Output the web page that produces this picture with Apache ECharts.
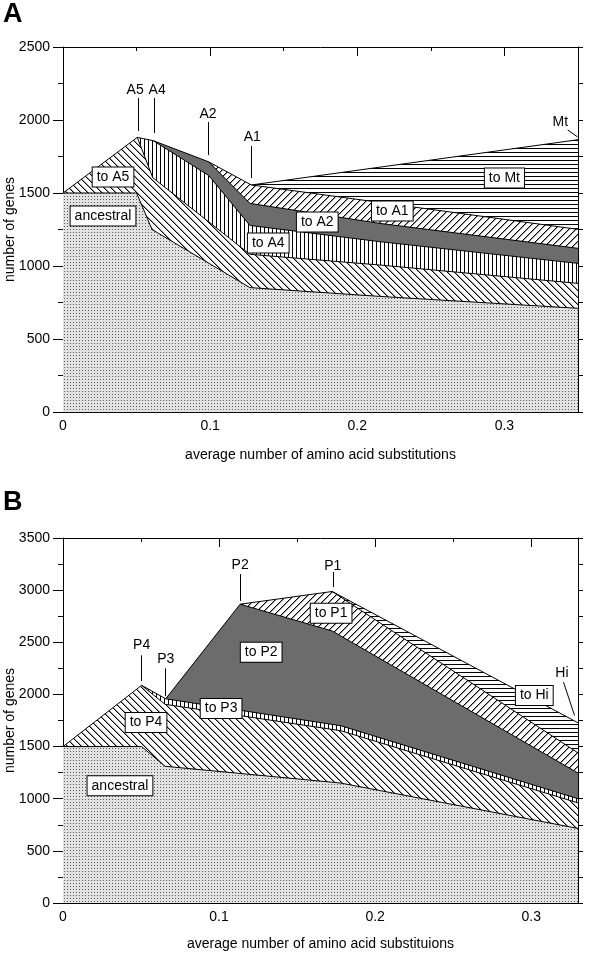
<!DOCTYPE html>
<html>
<head>
<meta charset="utf-8">
<script src="https://cdn.jsdelivr.net/npm/echarts@6/dist/echarts.min.js"></script>
<style>
  html, body { margin: 0; padding: 0; background: #fff; }
  #main { width: 592px; height: 954px; }
</style>
</head>
<body>
<div id="main"></div>
<script>
// ---- panel A: layer top boundaries [x, genes] ----
const ancA  = [[0, 1500], [0.05, 1500], [0.0605, 1250], [0.127, 852], [0.215, 792], [0.35, 710]];
const toA5  = [[0, 1500], [0.0505, 1881], [0.061, 1605], [0.127, 1080], [0.215, 1007], [0.35, 881]];
const toA4  = [[0.0505, 1881], [0.0614, 1858], [0.099, 1620], [0.127, 1278], [0.215, 1167], [0.35, 1018]];
const toA2  = [[0.0614, 1858], [0.0989, 1714], [0.127, 1429], [0.215, 1292], [0.35, 1121]];
const toA1  = [[0.0989, 1714], [0.128, 1555], [0.35, 1251]];
const toMt  = [[0.128, 1555], [0.35, 1865]];

// ---- panel B ----
const ancB  = [[0, 1500], [0.0504, 1500], [0.0654, 1311], [0.178, 1150], [0.33, 715]];
const toP4  = [[0, 1500], [0.0504, 2087], [0.0654, 1905], [0.178, 1652], [0.33, 960]];
const toP3  = [[0.0504, 2087], [0.0658, 1958], [0.178, 1700], [0.33, 1000]];
const toP2  = [[0.0658, 1958], [0.1135, 2865], [0.1725, 2608], [0.33, 1246]];
const toP1  = [[0.1135, 2865], [0.1725, 2987], [0.33, 1439]];
const toHi  = [[0.1725, 2987], [0.33, 1728]];

// region labels [x, y, text]
const boxesA = [[0.034, 1610, 'to A5'], [0.0272, 1342, 'ancestral'], [0.1395, 1158, 'to A4'],
                [0.1728, 1301, 'to A2'], [0.2238, 1377, 'to A1'], [0.300, 1603, 'to Mt']];
const boxesB = [[0.0532, 1731, 'to P4'], [0.1013, 1865, 'to P3'], [0.127, 2404, 'to P2'],
                [0.1718, 2779, 'to P1'], [0.302, 1990, 'to Hi'], [0.0365, 1125, 'ancestral']];

// node names and leader lines
const nodesA = [[0.049, 2205, 'A5'], [0.064, 2205, 'A4'], [0.0986, 2041, 'A2'], [0.1286, 1884, 'A1'], [0.338, 1986, 'Mt']];
const leadA  = [[[0.051, 1925], [0.051, 2151]], [[0.062, 1911], [0.062, 2151]], [[0.0986, 1760], [0.0986, 1986]],
                [[0.128, 1603], [0.128, 1822]], [[0.3497, 1884], [0.343, 1932]]];
const nodesB = [[0.0504, 2474, 'P4'], [0.0658, 2337, 'P3'], [0.1135, 3240, 'P2'], [0.1729, 3228, 'P1'], [0.3197, 2202, 'Hi']];
const leadB  = [[[0.0504, 2128], [0.0504, 2375]], [[0.0658, 1984], [0.0658, 2250]], [[0.1135, 2897], [0.1135, 3154]],
                [[0.1729, 3029], [0.1729, 3173]], [[0.3278, 1798], [0.3207, 2118]]];

const FONT = 'Liberation Sans, Arial, Helvetica, sans-serif';

// fill patterns
function pat(w, h, draw) {
  const c = document.createElement('canvas');
  c.width = w; c.height = h;
  const g = c.getContext('2d');
  g.fillStyle = '#fff';
  g.fillRect(0, 0, w, h);
  draw(g, w, h);
  return { image: c, repeat: 'repeat' };
}
const dots = pat(3, 3, g => { g.fillStyle = '#e2e2e2'; g.fillRect(0, 0, 3, 3); g.fillStyle = '#5a5a5a'; g.fillRect(1, 1, 1, 1); });
const back = pat(7, 7, (g, s) => {
  for (let i = 0; i < s; i++) { g.fillStyle = '#000'; g.fillRect(i, i, 1, 1); g.fillStyle = '#999'; g.fillRect((i + 1) % s, i, 1, 1); }
});
const slash = pat(7, 7, (g, s) => {
  for (let i = 0; i < s; i++) { g.fillStyle = '#000'; g.fillRect(i, s - 1 - i, 1, 1); g.fillStyle = '#999'; g.fillRect((i + 1) % s, s - 1 - i, 1, 1); }
});
const vert = pat(4, 4, g => { g.fillStyle = '#000'; g.fillRect(0, 0, 1, 4); });
const horz = pat(4, 4, g => { g.fillStyle = '#000'; g.fillRect(0, 0, 4, 1); });
const gray = '#6c6c6c';

const black = { color: '#000', width: 1 };
const num = v => String(v);

function xAxes(gi, max, name, gap) {
  const base = { gridIndex: gi, type: 'value', min: 0, max: max, splitLine: { show: false } };
  return [
    Object.assign({}, base, {
      position: 'bottom', interval: 0.1, name: name, nameLocation: 'middle', nameGap: gap, nameMoveOverlap: false,
      nameTextStyle: { fontFamily: FONT, fontSize: 14, color: '#000' },
      axisLine: { onZero: false, lineStyle: black },
      axisTick: { inside: true, length: 9, lineStyle: black },
      axisLabel: { margin: 7, fontFamily: FONT, fontSize: 14, color: '#000', showMaxLabel: false, formatter: num }
    }),
    Object.assign({}, base, {
      position: 'bottom', interval: 0.05,
      axisLine: { show: false, onZero: false },
      axisTick: { inside: true, length: 4, lineStyle: black }, axisLabel: { show: false }
    }),
    Object.assign({}, base, {
      position: 'top', interval: 0.1,
      axisLine: { onZero: false, lineStyle: black },
      axisTick: { inside: true, length: 9, lineStyle: black }, axisLabel: { show: false }
    }),
    Object.assign({}, base, {
      position: 'top', interval: 0.05,
      axisLine: { show: false, onZero: false },
      axisTick: { inside: true, length: 4, lineStyle: black }, axisLabel: { show: false }
    })
  ];
}

function yAxes(gi, max) {
  const base = { gridIndex: gi, type: 'value', min: 0, max: max, splitLine: { show: false } };
  return [
    Object.assign({}, base, {
      position: 'left', interval: 500, name: 'number of genes', nameLocation: 'middle', nameGap: 46, nameMoveOverlap: false,
      nameTextStyle: { fontFamily: FONT, fontSize: 14, color: '#000' },
      axisLine: { onZero: false, lineStyle: black },
      axisTick: { length: 10, lineStyle: black },
      axisLabel: { margin: 13, fontFamily: FONT, fontSize: 14, color: '#000', formatter: num }
    }),
    Object.assign({}, base, {
      position: 'left', interval: 250,
      axisLine: { show: false, onZero: false },
      axisTick: { length: 5, lineStyle: black }, axisLabel: { show: false }
    }),
    Object.assign({}, base, {
      position: 'right', interval: 250,
      axisLine: { onZero: false, lineStyle: black },
      axisTick: { length: 5, lineStyle: black }, axisLabel: { show: false }
    })
  ];
}

function layer(gi, data, fill) {
  return {
    type: 'line', xAxisIndex: gi * 4, yAxisIndex: gi * 3, data: data,
    symbol: 'none', silent: true, lineStyle: black,
    areaStyle: { color: fill, opacity: 1 }
  };
}

function boxes(gi, data) {
  return {
    type: 'scatter', xAxisIndex: gi * 4, yAxisIndex: gi * 3, data: data, z: 6,
    symbolSize: 1, itemStyle: { color: 'rgba(0,0,0,0)', opacity: 1 }, silent: true,
    label: {
      show: true, position: 'inside', formatter: p => p.value[2],
      fontFamily: FONT, fontSize: 14, color: '#000', lineHeight: 14,
      backgroundColor: '#fff', borderColor: '#000', borderWidth: 1, padding: [3, 4, 2, 4]
    }
  };
}

function names(gi, data) {
  return {
    type: 'scatter', xAxisIndex: gi * 4, yAxisIndex: gi * 3, data: data, z: 6,
    symbolSize: 1, itemStyle: { color: 'rgba(0,0,0,0)', opacity: 1 }, silent: true,
    label: { show: true, position: 'inside', formatter: p => p.value[2], fontFamily: FONT, fontSize: 14, color: '#000' }
  };
}

function leaders(gi, data) {
  return {
    type: 'lines', coordinateSystem: 'cartesian2d', xAxisIndex: gi * 4, yAxisIndex: gi * 3, z: 6,
    data: data.map(c => ({ coords: c })), silent: true,
    lineStyle: { color: '#000', width: 1, opacity: 1, curveness: 0 }
  };
}

const chart = echarts.init(document.getElementById('main'), null, { renderer: 'canvas' });
chart.setOption({
  animation: false,
  backgroundColor: '#fff',
  graphic: [
    { type: 'text', left: 3, top: 1, style: { text: 'A', font: 'bold 27px ' + FONT, fill: '#000' } },
    { type: 'text', left: 3, top: 489, style: { text: 'B', font: 'bold 27px ' + FONT, fill: '#000' } }
  ],
  grid: [
    { left: 63, top: 47, width: 515, height: 365, outerBoundsMode: 'none', containLabel: false },
    { left: 63, top: 538, width: 515, height: 365, outerBoundsMode: 'none', containLabel: false }
  ],
  xAxis: xAxes(0, 0.35, 'average number of amino acid substitutions', 36)
    .concat(xAxes(1, 0.33, 'average number of amino acid substituions', 34)),
  yAxis: yAxes(0, 2500).concat(yAxes(1, 3500)),
  series: [
    layer(0, toMt, horz), layer(0, toA1, slash), layer(0, toA2, gray),
    layer(0, toA4, vert), layer(0, toA5, back), layer(0, ancA, dots),
    layer(1, toHi, horz), layer(1, toP1, slash), layer(1, toP2, gray),
    layer(1, toP3, vert), layer(1, toP4, back), layer(1, ancB, dots),
    leaders(0, leadA), leaders(1, leadB),
    names(0, nodesA), names(1, nodesB),
    boxes(0, boxesA), boxes(1, boxesB)
  ]
});
</script>
</body>
</html>
